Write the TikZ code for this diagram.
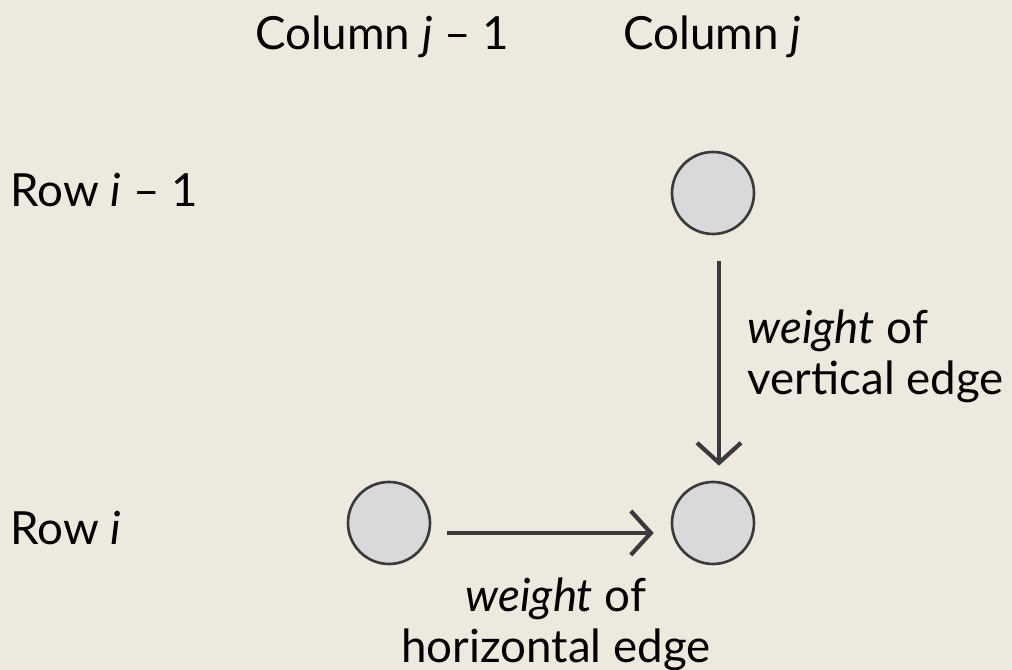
\documentclass[tikz,border=0pt]{standalone}
\usepackage{fontspec}
\setmainfont{Lato}
\usetikzlibrary{arrows.meta}
\definecolor{paper}{RGB}{237,233,222}
\definecolor{inkgray}{RGB}{58,58,58}
\definecolor{cellgray}{RGB}{217,217,217}

\begin{document}
\begin{tikzpicture}[
  every node/.style={font=\fontsize{13}{14.5}\selectfont, text=black},
  cell/.style={circle, draw=inkgray, fill=cellgray, line width=0.75pt,
    minimum size=0.82cm, inner sep=0pt},
  label/.style={inner sep=0pt, align=center},
  arr/.style={-{Straight Barb[length=2mm,width=4.4mm]}, line width=1.2pt, draw=inkgray},
]
\fill[paper] (0,0) rectangle (10.12,6.70);
\useasboundingbox (0,0) rectangle (10.12,6.70);

\node[label] at (3.82, 6.33) (colprev) {Column \textit{j} – 1};
\node[label] at (7.12, 6.33) (colj)    {Column \textit{j}};
\node[label, anchor=west] at (0.10, 4.80) (rowprev) {Row \textit{i} – 1};
\node[label, anchor=west] at (0.10, 1.42) (rowi)    {Row \textit{i}};

\node[cell] at (7.13, 4.77) (up)   {};
\node[cell] at (7.13, 1.47) (here) {};
\node[cell] at (3.89, 1.47) (left) {};

\node[label, anchor=west, align=left] at (7.47, 3.14) (vlabel) {\textit{weight} of\\vertical edge};
\node[label] at (5.56, 0.46) (hlabel) {\textit{weight} of\\horizontal edge};

\draw[arr] ([shift={(0.06,-0.26)}]up.south) -- ([shift={(0.06,0.15)}]here.north);
\draw[arr] ([shift={(0.16,-0.10)}]left.east) -- ([shift={(-0.17,-0.10)}]here.west);
\end{tikzpicture}
\end{document}
